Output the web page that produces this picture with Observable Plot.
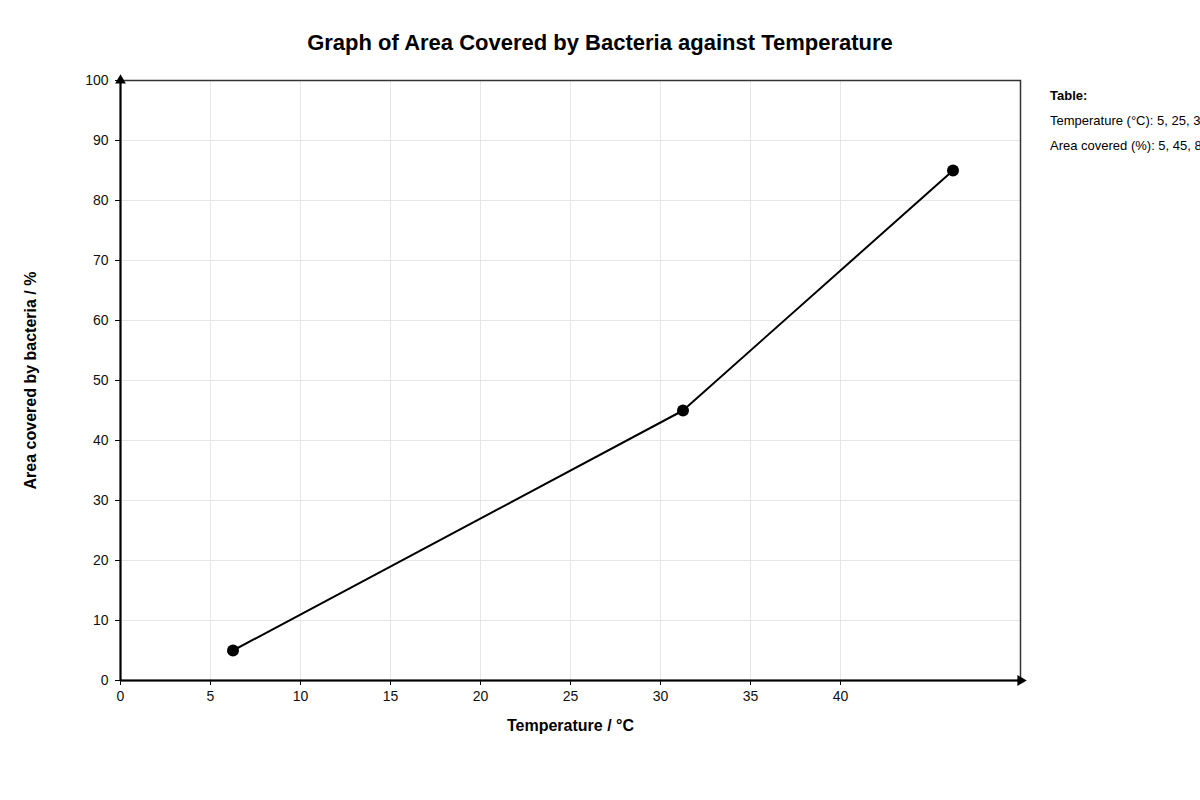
<!DOCTYPE html>
<html>
<head>
<meta charset="utf-8">
<script src="https://cdn.jsdelivr.net/npm/d3@7"></script>
<script src="https://cdn.jsdelivr.net/npm/@observablehq/plot@0.6"></script>
<style>
  html, body { margin: 0; padding: 0; background: #fff; overflow: hidden; width: 1200px; height: 800px; }
  body { font-family: "Liberation Sans", Arial, Helvetica, sans-serif; position: relative; }
  #title { padding-top: 31px; height: 23px; line-height: 24px; font-size: 22px; font-weight: bold; text-align: center; color: #000; }
  #table { position: absolute; left: 1050px; top: 87px; font-size: 13px; color: #000; white-space: nowrap; }
  #table div { height: 18px; line-height: 18px; }
  #table .head { font-weight: bold; margin-bottom: 7px; }
  #table .row { margin-bottom: 7px; }
</style>
</head>
<body>
<div id="title">Graph of Area Covered by Bacteria against Temperature</div>
<div id="chart"></div>
<div id="table"></div>
<script>
const temperature = [6.25, 31.25, 46.25];
const areaCovered = [5, 45, 85];
// Values as written in the side table
const tableTemperature = [5, 25, 37];
const tableArea = [5, 45, 85];
const xTicks = [0, 5, 10, 15, 20, 25, 30, 35, 40];
const yTicks = [0, 10, 20, 30, 40, 50, 60, 70, 80, 90, 100];
const xGrid = [5, 10, 15, 20, 25, 30, 35, 40];
const yGrid = [10, 20, 30, 40, 50, 60, 70, 80, 90];
const xLabel = "Temperature / °C";
const yLabel = "Area covered by bacteria / %";

const data = temperature.map((t, i) => ({t, a: areaCovered[i]}));

const chart = Plot.plot({
  width: 1200,
  height: 696,
  marginTop: 26,
  marginBottom: 70,
  marginLeft: 120,
  marginRight: 180,
  style: {fontFamily: "'Liberation Sans', Arial, sans-serif", fontSize: "14px", color: "#000", background: "#fff"},
  x: {domain: [0, 50]},
  y: {domain: [0, 100]},
  marks: [
    Plot.gridX(xGrid, {stroke: "#e6e6e6", strokeOpacity: 1, strokeWidth: 1}),
    Plot.gridY(yGrid, {stroke: "#e6e6e6", strokeOpacity: 1, strokeWidth: 1}),
    Plot.frame({stroke: "#333", strokeWidth: 1.5}),
    Plot.axisX({ticks: xTicks, tickSize: 5, tickPadding: 6, label: null, stroke: "#000", fill: "#111", fontSize: 14}),
    Plot.axisY({ticks: yTicks, tickSize: 5, tickPadding: 7, label: null, stroke: "#000", fill: "#111", fontSize: 14}),
    Plot.ruleY([0], {stroke: "#000", strokeWidth: 2}),
    Plot.ruleX([0], {stroke: "#000", strokeWidth: 2}),
    Plot.dot([{x: 0, y: 100}], {x: "x", y: "y", symbol: "triangle", r: 4, fill: "#000", stroke: null}),
    Plot.dot([{x: 50, y: 0}], {x: "x", y: "y", symbol: "triangle", r: 4, fill: "#000", stroke: null, rotate: 90}),
    Plot.line(data, {x: "t", y: "a", stroke: "#000", strokeWidth: 2}),
    Plot.dot(data, {x: "t", y: "a", r: 6, fill: "#000", stroke: null}),
    Plot.text([xLabel], {frameAnchor: "bottom", dy: 45, lineAnchor: "middle", fontWeight: "bold", fontSize: 16, fill: "#000"}),
    Plot.text([yLabel], {frameAnchor: "left", dx: -90, rotate: -90, textAnchor: "middle", lineAnchor: "middle", fontWeight: "bold", fontSize: 16, fill: "#000"})
  ]
});
document.getElementById("chart").appendChild(chart);

const tbl = document.getElementById("table");
tbl.innerHTML =
  `<div class="head">Table:</div>` +
  `<div class="row">Temperature (°C): ${tableTemperature.join(", ")}</div>` +
  `<div class="row">Area covered (%): ${tableArea.join(", ")}</div>`;
</script>
</body>
</html>
